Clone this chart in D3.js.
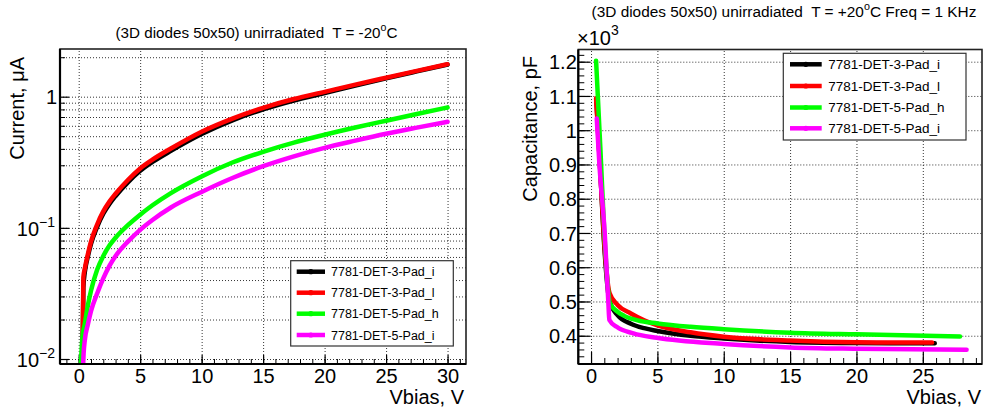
<!DOCTYPE html>
<html><head><meta charset="utf-8">
<script src="https://cdn.jsdelivr.net/npm/d3@7"></script>
<style>
body{margin:0;background:#fff}
svg{display:block}
text{font-family:"Liberation Sans",Arial,Helvetica,sans-serif;fill:#000}
</style>
</head><body>
<svg id="c" width="987" height="409"></svg>
<script>
// ---------- data ----------
const seriesNames  = ["7781-DET-3-Pad_i","7781-DET-3-Pad_l","7781-DET-5-Pad_h","7781-DET-5-Pad_i"];
const seriesColors = ["#000000","#ff0000","#00ff00","#ff00ff"];

// I-V (T = -20 C), current in uA
const ivVoltBlack = [0.3,0.38,0.5,0.75,1,1.5,2,2.5,3,4,5,6,7.5,10,12.5,15,17.5,20,22.5,25,27.5,30];
const ivCurrBlack = [0.008,0.035,0.046,0.0606,0.0754,0.1018,0.128,0.152,0.175,0.2224,0.2724,0.3179,0.3866,0.5192,0.6604,0.80,0.935,1.066,1.215,1.38,1.56,1.76];
const ivVoltRed   = [0.3,0.38,0.5,0.75,1,1.5,2,2.5,3,4,5,6,7.5,10,12.5,15,17.5,20,22.5,25,27.5,30];
const ivCurrRed   = [0.008,0.042,0.049,0.0631,0.0785,0.106,0.1334,0.1585,0.182,0.2317,0.2838,0.3311,0.4027,0.5408,0.6808,0.8222,0.9594,1.089,1.236,1.396,1.574,1.77];
const ivVoltGreen = [0.15,0.3,0.5,0.75,1,1.5,2,2.5,3,4,5,6,7.5,10,12.5,15,17.5,20,22.5,25,27.5,30];
const ivCurrGreen = [0.008,0.0145,0.0186,0.0257,0.0331,0.0479,0.061,0.0733,0.0841,0.1047,0.1259,0.1486,0.1841,0.2466,0.3148,0.3802,0.4467,0.5129,0.5821,0.6561,0.7379,0.828];
const ivVoltMag   = [0.35,0.4,0.5,0.75,1,1.5,2,2.5,3,4,5,6,7.5,10,12.5,15,17.5,20,22.5,25,27.5,30];
const ivCurrMag   = [0.0085,0.011,0.01396,0.0184,0.0232,0.0316,0.0412,0.0513,0.061,0.0785,0.0966,0.1148,0.1429,0.1879,0.2399,0.2951,0.3508,0.4074,0.4624,0.5212,0.5808,0.6442];

// C-V (T = +20 C, 1 kHz), capacitance in pF
const cvVoltBlack = [0.4,0.7,1.0,1.4,2,3,4,5,7.5,10,15,20,25.9];
const cvCapBlack  = [1090,880,660,500,460,435,422,414,400,392,382,379,378];
const cvVoltRed   = [0.38,0.7,1.0,1.4,2,3,4,5,7.5,10,15,20,25.7];
const cvCapRed    = [1093,880,670,524,490,465,445,430,410,397,386,381,380];
const cvVoltGreen = [0.38,0.7,1.0,1.43,2,2.5,3.5,5,7.5,10,15,20,27.8];
const cvCapGreen  = [1203,950,700,494,470,458,445,436,426,419,409,404,398];
const cvVoltMag   = [0.43,0.63,1.03,1.3,1.38,1.93,3.19,4.95,10,15,20,28.3];
const cvCapMag    = [1034,900,700,500,446,426,407,394,376,366,362,359];

// tick values / labels
const leftXTicks   = [0,5,10,15,20,25,30];
const leftYTicks   = [0.01,0.1,1];
const leftYLabels  = [["10","−2"],["10","−1"],["1",""]];
const rightXTicks  = [0,5,10,15,20,25];
const rightYTicks  = [400,500,600,700,800,900,1000,1100,1200];
const rightYLabels = ["0.4","0.5","0.6","0.7","0.8","0.9","1","1.1","1.2"];

const leftTitle  = ["(3D diodes 50x50) unirradiated  T = -20","o","C"];
const rightTitle = ["(3D diodes 50x50) unirradiated  T = +20","o","C Freq = 1 KHz"];

// ---------- build ----------
const svg = d3.select("#c");
const zip = (xs, ys) => xs.map((x,i)=>({x, y: ys[i]}));
const ivSeries = [zip(ivVoltBlack,ivCurrBlack), zip(ivVoltRed,ivCurrRed), zip(ivVoltGreen,ivCurrGreen), zip(ivVoltMag,ivCurrMag)];
const cvSeries = [zip(cvVoltBlack,cvCapBlack), zip(cvVoltRed,cvCapRed), zip(cvVoltGreen,cvCapGreen), zip(cvVoltMag,cvCapMag)];

const L = {x0:60, x1:466, y0:49, y1:364};
const R = {x0:578.3, x1:982, y0:49.5, y1:364};

const xL = d3.scaleLinear().domain([-1.52,31.5]).range([L.x0,L.x1]);
const yL = d3.scaleLog().domain([0.00916,2.31]).range([L.y1,L.y0]);
const xR = d3.scaleLinear().domain([-0.96,29.46]).range([R.x0,R.x1]);
const yR = d3.scaleLinear().domain([317.5,1235.6]).range([R.y1,R.y0]);

const range = (a,b,s)=>{const r=[];for(let v=a;v<=b+1e-9;v+=s)r.push(+v.toFixed(4));return r;};
const leftXMinor  = range(-1,31,1);
const leftYMinor  = [];
[0.01,0.1,1].forEach(d=>{for(let k=2;k<=9;k++){const v=d*k; if(v<=2.31) leftYMinor.push(v);}});
const rightXMinor = range(0,29,1);
const rightYMinor = range(320,1220,20);

const gridStyle = g => g.selectAll("line").attr("stroke","#000").attr("stroke-width",0.8).attr("stroke-dasharray","1 2");
const clean = g => { g.select(".domain").remove(); };

function panel(P, x, y, xMajor, xMinor, yMajor, yMinor, yGrid, majLen, minLen){
  const g = svg.append("g");
  g.append("g").attr("transform",`translate(0,${P.y1})`)
    .call(d3.axisBottom(x).tickValues(xMajor).tickSize(-(P.y1-P.y0)).tickFormat(""))
    .call(clean).call(gridStyle);
  g.append("g").attr("transform",`translate(${P.x0},0)`)
    .call(d3.axisLeft(y).tickValues(yGrid).tickSize(-(P.x1-P.x0)).tickFormat(""))
    .call(clean).call(gridStyle);
  g.append("g").attr("transform",`translate(0,${P.y1})`)
    .call(d3.axisBottom(x).tickValues(xMinor).tickSize(-minLen).tickFormat(""))
    .call(clean).selectAll("line").attr("stroke","#000").attr("stroke-width",1);
  g.append("g").attr("transform",`translate(${P.x0},0)`)
    .call(d3.axisLeft(y).tickValues(yMinor).tickSize(-minLen).tickFormat(""))
    .call(clean).selectAll("line").attr("stroke","#000").attr("stroke-width",1);
  return g;
}

// ---------- left panel ----------
const gl = panel(L, xL, yL, leftXTicks, leftXMinor, leftYTicks, leftYMinor, leftYTicks.concat(leftYMinor), 9, 5);
gl.append("g").attr("transform",`translate(0,${L.y1})`)
  .call(d3.axisBottom(xL).tickValues(leftXTicks).tickSize(-9).tickPadding(5).tickFormat(d3.format("d")))
  .call(clean).call(g=>{g.selectAll("line").attr("stroke","#000").attr("stroke-width",1.2);
    g.selectAll("text").attr("font-size",20).attr("font-family",null).attr("fill","#000");});
gl.append("g").attr("transform",`translate(${L.x0},0)`)
  .call(d3.axisLeft(yL).tickValues(leftYTicks).tickSize(-9).tickPadding(4).tickFormat(""))
  .call(clean).call(g=>{
    g.selectAll("line").attr("stroke","#000").attr("stroke-width",1.2);
    g.selectAll(".tick").each(function(d,i){
      const t = d3.select(this).select("text").attr("font-size",20).attr("font-family",null).attr("fill","#000").attr("dy","0.36em").attr("x",-3);
      const lab = leftYLabels[i];
      t.text(null);
      if(lab[1]){
        t.attr("x",-5);
        t.append("tspan").text(lab[0]);
        t.append("tspan").attr("font-size",14).attr("dy",-9).text(lab[1]);
      } else t.append("tspan").text(lab[0]);
    });
  });

// ---------- right panel ----------
const gr = panel(R, xR, yR, rightXTicks, rightXMinor, rightYTicks, rightYMinor, rightYTicks, 12, 6);
gr.append("g").attr("transform",`translate(0,${R.y1})`)
  .call(d3.axisBottom(xR).tickValues(rightXTicks).tickSize(-12).tickPadding(5).tickFormat(d3.format("d")))
  .call(clean).call(g=>{g.selectAll("line").attr("stroke","#000").attr("stroke-width",1.2);
    g.selectAll("text").attr("font-size",20).attr("font-family",null).attr("fill","#000");});
gr.append("g").attr("transform",`translate(${R.x0},0)`)
  .call(d3.axisLeft(yR).tickValues(rightYTicks).tickSize(-12).tickPadding(1.5).tickFormat((d,i)=>rightYLabels[i]))
  .call(clean).call(g=>{g.selectAll("line").attr("stroke","#000").attr("stroke-width",1.2);
    g.selectAll("text").attr("font-size",20).attr("font-family",null).attr("fill","#000").attr("dy","0.36em");});

// ---------- curves ----------
function drawCurves(g, P, x, y, series, curve){
  const clipId = "clip"+Math.round(P.x0);
  svg.append("defs").append("clipPath").attr("id",clipId)
    .append("rect").attr("x",P.x0).attr("y",P.y0).attr("width",P.x1-P.x0).attr("height",P.y1-P.y0);
  const line = d3.line().curve(curve).x(d=>x(d.x)).y(d=>y(Math.max(d.y,1e-4)));
  const cg = g.append("g").attr("clip-path",`url(#${clipId})`);
  series.forEach((s,i)=>{
    cg.append("path").attr("d",line(s)).attr("fill","none")
      .attr("stroke",seriesColors[i]).attr("stroke-width",4.5)
      .attr("stroke-linejoin","round").attr("stroke-linecap","round");
  });
}
drawCurves(gl, L, xL, yL, ivSeries, d3.curveMonotoneX);
drawCurves(gr, R, xR, yR, cvSeries, d3.curveMonotoneX);

// ---------- frames ----------
[L,R].forEach(P=>{
  svg.append("rect").attr("x",P.x0).attr("y",P.y0).attr("width",P.x1-P.x0).attr("height",P.y1-P.y0)
    .attr("fill","none").attr("stroke","#222").attr("stroke-width",1.6);
  svg.append("line").attr("x1",P.x0).attr("x2",P.x0).attr("y1",P.y0).attr("y2",P.y1).attr("stroke","#000").attr("stroke-width",2.2);
  svg.append("line").attr("x1",P.x0).attr("x2",P.x1).attr("y1",P.y1).attr("y2",P.y1).attr("stroke","#000").attr("stroke-width",2.2);
});

// ---------- legends ----------
function legend(box, rowY, lineX0, lineX1, textX, fs){
  svg.append("rect").attr("x",box[0]).attr("y",box[1]).attr("width",box[2]-box[0]).attr("height",box[3]-box[1])
    .attr("fill","#fff").attr("stroke","#333").attr("stroke-width",1.2);
  seriesNames.forEach((n,i)=>{
    const yy = rowY[i];
    svg.append("line").attr("x1",lineX0).attr("x2",lineX1).attr("y1",yy).attr("y2",yy)
      .attr("stroke",seriesColors[i]).attr("stroke-width",4.5);
    svg.append("circle").attr("cx",(lineX0+lineX1)/2).attr("cy",yy).attr("r",2.6).attr("fill",seriesColors[i]);
    svg.append("text").attr("x",textX).attr("y",yy).attr("dy","0.36em").attr("font-size",fs).text(n);
  });
}
legend([290.7,260.7,453.3,346],[271.7,292.7,313.7,335],296.7,325,331,12.5);
legend([783.3,53.3,966,140],[64.3,86,107.5,128.3],790,821.7,828.3,13.5);

// ---------- titles & axis labels ----------
function title(cx, by, parts, fs){
  const t = svg.append("text").attr("x",cx).attr("y",by).attr("text-anchor","middle")
    .attr("font-size",fs).style("white-space","pre");
  t.append("tspan").text(parts[0]);
  t.append("tspan").attr("font-size",fs*0.7).attr("dy",-fs*0.45).text(parts[1]);
  t.append("tspan").attr("dy",fs*0.45).text(parts[2]);
}
title(256.5, 37.5, leftTitle, 15.2);
title(784, 17, rightTitle, 15.4);

svg.append("text").attr("x",464).attr("y",404).attr("text-anchor","end").attr("font-size",20).text("Vbias, V");
svg.append("text").attr("x",981).attr("y",404).attr("text-anchor","end").attr("font-size",20).text("Vbias, V");
svg.append("text").attr("transform","translate(24,57) rotate(-90)").attr("text-anchor","end").attr("font-size",20).text("Current, μA");
svg.append("text").attr("transform","translate(537,56) rotate(-90)").attr("text-anchor","end").attr("font-size",20).text("Capacitance, pF");
const ex = svg.append("text").attr("x",577).attr("y",45).attr("font-size",20);
ex.append("tspan").text("×10");
ex.append("tspan").attr("font-size",14).attr("dy",-10).text("3");
</script>
</body></html>
